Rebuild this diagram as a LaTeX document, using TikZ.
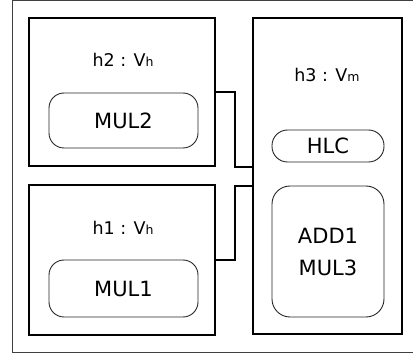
\documentclass[tikz,border=0pt]{standalone}
\usepackage{fontspec}
\setmainfont{DejaVu Sans}
\begin{document}
\begin{tikzpicture}[x=1pt,y=-1pt,
  hostbox/.style={draw=black, line width=2.6pt, rectangle, inner sep=0pt},
  unitbox/.style={draw=black!85, line width=0.9pt, rectangle, inner sep=0pt,
    font=\fontsize{21}{32}\selectfont, align=center},
  hostlabel/.style={anchor=base, inner sep=0pt, font=\fontsize{17.5}{20}\selectfont},
  wire/.style={draw=black, line width=1.8pt},
  frame/.style={draw=black!75, line width=1pt}]
  \useasboundingbox (0,0) rectangle (413,358);
  % outer frame
  \draw[frame] (12,1) rectangle (416,353);

  % hosts
  \node[hostbox, minimum width=186pt, minimum height=148pt] (h2) at (122,92) {};
  \node[hostbox, minimum width=186pt, minimum height=150pt] (h1) at (122,260) {};
  \node[hostbox, minimum width=149pt, minimum height=316pt] (h3) at (327.5,176) {};

  % host labels
  \node[hostlabel] (l2) at (123,67) {h2 : V{\fontsize{12.5}{14}\selectfont h}};
  \node[hostlabel] (l1) at (123,235) {h1 : V{\fontsize{12.5}{14}\selectfont h}};
  \node[hostlabel] (l3) at (327,82) {h3 : V{\fontsize{12.5}{14}\selectfont m}};

  % units
  \node[unitbox, rounded corners=15pt, minimum width=149pt, minimum height=55pt] (mul2) at (123.5,120.5) {MUL2};
  \node[unitbox, rounded corners=15pt, minimum width=149pt, minimum height=57pt] (mul1) at (123.5,288.5) {MUL1};
  \node[unitbox, rounded corners=15.5pt, minimum width=112pt, minimum height=32pt] (hlc) at (328,146) {HLC};
  \node[unitbox, rounded corners=18pt, minimum width=112pt, minimum height=131pt] (add) at (328,251.5) {ADD1\\MUL3};

  % links
  \coordinate (j2) at (235,167);
  \coordinate (j1) at (235,186);
  \draw[wire] (h2.east) -| (j2) -- (h3.west |- j2);
  \draw[wire] (h1.east) -| (j1) -- (h3.west |- j1);
\end{tikzpicture}
\end{document}
